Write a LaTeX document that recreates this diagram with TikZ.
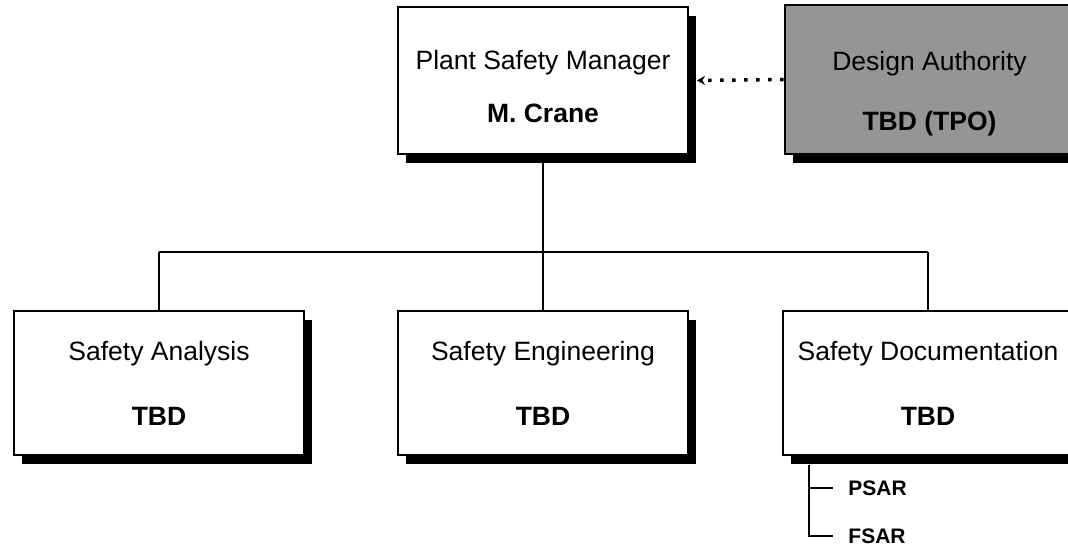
\documentclass[tikz,border=0pt]{standalone}
\usepackage{fontspec}
\setmainfont{Liberation Sans}
\usetikzlibrary{positioning,arrows.meta,shadows}
\definecolor{authGray}{HTML}{959595}

\begin{document}
\begin{tikzpicture}[x=0.5pt, y=-0.5pt, >=Stealth,
      unit/.style={draw, line width=1pt, fill=white, minimum width=145pt, minimum height=72pt,
        align=center, font=\fontsize{13.25}{16}\selectfont,
        drop shadow={shadow xshift=4pt, shadow yshift=-4.5pt, fill=black, opacity=1}},
      outside/.style={unit, fill=authGray},
      link/.style={line width=0.8pt},
      item/.style={anchor=west, inner xsep=7.5pt, inner ysep=0pt, font=\fontsize{10.5}{12}\selectfont\bfseries}]
    \useasboundingbox (0,0) rectangle (1068,545);
    % top row
    \node[unit, minimum height=73.5pt] (psm) at (543,80.5) {\rule{0pt}{15.5pt}Plant Safety Manager\\[10.5pt]\textbf{M. Crane}};
    \node[outside, minimum height=74.5pt] (da) at (929.5,79.5) {\rule{0pt}{24pt}Design Authority\\[14pt]\textbf{TBD (TPO)}};
    % groups
    \node[unit] (sa) at (159,383) {Safety Analysis\\[16.5pt]\textbf{TBD}};
    \node[unit] (se) at (543,383) {Safety Engineering\\[16.5pt]\textbf{TBD}};
    \node[unit] (sd) at (928,383) {Safety Documentation\\[16.5pt]\textbf{TBD}};
    \draw[line width=1.75pt, dash pattern=on 1.75pt off 4.25pt, -{Stealth[length=4pt, width=4.5pt]}]
      (da.west) -- ([xshift=4pt]psm.east);
    \coordinate (bus) at (543,252);
    \draw[link] (psm.south) -- (bus);
    \draw[link] (bus -| sa) -- (bus -| sd);
    \foreach \u in {sa,se,sd} {
      \draw[link] (bus -| \u) -- (\u.north);
    }
    % reports under documentation
    \coordinate (brk) at (809,465);
    \node[item] (psar) at (833,488) {PSAR};
    \node[item] (fsar) at (833,536) {FSAR};
    \draw[link] (brk) |- (psar.west);
    \draw[link] (brk) |- (fsar.west);
\end{tikzpicture}
\end{document}
